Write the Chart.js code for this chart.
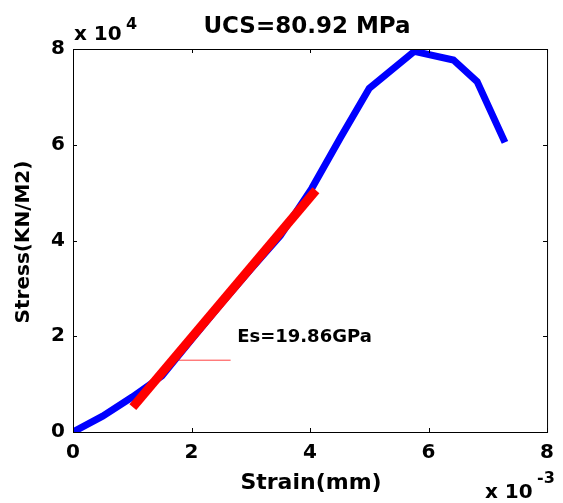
<!DOCTYPE html>
<html lang="en">
<head>
    <meta charset="UTF-8">
    <title>UCS Stress-Strain Curve</title>
    <style>
        body { margin: 0; background: #fff; }
        #wrap { width: 563px; height: 503px; }
    </style>
    <script src="https://cdn.jsdelivr.net/npm/chart.js"></script>
</head>
<body>
    <div id="wrap"><canvas id="ucsChart" width="563" height="503"></canvas></div>

    <script>
        // Measured stress-strain curve
        const strain = [0, 0.0005, 0.0010, 0.0015, 0.0020, 0.0025, 0.0030, 0.0035, 0.00403, 0.00451, 0.0050, 0.00576, 0.00642, 0.00682, 0.00729];
        const stress = [0, 3300, 7300, 11700, 19300, 26800, 34000, 41000, 50900, 61400, 71800, 79500, 77700, 73200, 60500];

        // Linear fit used for the secant modulus
        const fitStrain = [0.00101, 0.00410];
        const fitStress = [5200, 50500];

        // Leader line pointing at the modulus label
        const leaderStrain = [0.00178, 0.00266];
        const leaderStress = [15000, 15000];

        const xTicks = [0, 0.002, 0.004, 0.006, 0.008];
        const yTicks = [0, 20000, 40000, 60000, 80000];

        const titleText = 'UCS=80.92 MPa';
        const modulusText = 'Es=19.86GPa';

        const FONT = "'DejaVu Sans', Arial, sans-serif";
        const pts = (xs, ys) => xs.map((x, i) => ({ x: x, y: ys[i] }));

        // box, inward ticks and the free text around the axes
        const frame = {
            id: 'frame',
            afterDatasetsDraw(chart) {
                const ctx = chart.ctx;
                const a = chart.chartArea;
                const sx = chart.scales.x, sy = chart.scales.y;
                ctx.save();
                ctx.strokeStyle = '#000';
                ctx.lineWidth = 1;
                ctx.strokeRect(a.left + 0.5, a.top + 0.5, a.right - a.left, a.bottom - a.top);
                ctx.beginPath();
                xTicks.forEach(v => {
                    const px = Math.round(sx.getPixelForValue(v)) + 0.5;
                    ctx.moveTo(px, a.bottom); ctx.lineTo(px, a.bottom - 4);
                    ctx.moveTo(px, a.top); ctx.lineTo(px, a.top + 4);
                });
                yTicks.forEach(v => {
                    const py = Math.round(sy.getPixelForValue(v)) + 0.5;
                    ctx.moveTo(a.left, py); ctx.lineTo(a.left + 4, py);
                    ctx.moveTo(a.right, py); ctx.lineTo(a.right - 4, py);
                });
                ctx.stroke();

                ctx.fillStyle = '#000';
                ctx.textBaseline = 'alphabetic';

                // title
                ctx.font = 'bold 23px ' + FONT;
                ctx.textAlign = 'center';
                ctx.fillText(titleText, 307, 33);

                // axis titles
                ctx.font = 'bold 22px ' + FONT;
                ctx.fillText('Strain(mm)', 311, 489);
                ctx.save();
                ctx.translate(29, 242);
                ctx.rotate(-Math.PI / 2);
                ctx.font = 'bold 20px ' + FONT;
                ctx.fillText('Stress(KN/M2)', 0, 0);
                ctx.restore();

                // exponent labels
                ctx.textAlign = 'left';
                ctx.font = 'bold 20px ' + FONT;
                ctx.fillText('x 10', 74, 40);
                ctx.fillText('x 10', 485, 498);
                ctx.font = 'bold 16px ' + FONT;
                ctx.fillText('4', 126, 29);
                ctx.fillText('-3', 537, 483);

                // modulus label
                ctx.font = 'bold 18px ' + FONT;
                ctx.textBaseline = 'middle';
                ctx.fillText(modulusText, sx.getPixelForValue(0.00277), sy.getPixelForValue(19800));
                ctx.restore();
            }
        };

        new Chart(document.getElementById('ucsChart').getContext('2d'), {
            type: 'scatter',
            data: {
                datasets: [
                    { data: pts(fitStrain, fitStress), showLine: true, borderColor: '#ff0000', borderWidth: 9, pointRadius: 0, order: 0 },
                    { data: pts(leaderStrain, leaderStress), showLine: true, borderColor: 'rgba(255,0,0,0.75)', borderWidth: 1, pointRadius: 0, order: 1 },
                    { data: pts(strain, stress), showLine: true, borderColor: '#0000ff', borderWidth: 7, pointRadius: 0, order: 2 }
                ]
            },
            options: {
                responsive: false,
                animation: false,
                events: [],
                layout: { padding: { left: 0, top: 49, right: 8, bottom: 0 } },
                plugins: { legend: { display: false }, tooltip: { enabled: false }, title: { display: false } },
                scales: {
                    x: {
                        type: 'linear', min: 0, max: 0.008,
                        afterFit: s => { s.height = 71; },
                        afterBuildTicks: s => { s.ticks = xTicks.map(v => ({ value: v })); },
                        grid: { display: false, drawTicks: false },
                        border: { display: false },
                        ticks: {
                            padding: 9, color: '#000', maxRotation: 0,
                            font: { family: FONT, size: 20, weight: 'bold' },
                            callback: v => String(Math.round(v * 1000))
                        }
                    },
                    y: {
                        min: 0, max: 80000,
                        afterFit: s => { s.width = 73; },
                        afterBuildTicks: s => { s.ticks = yTicks.map(v => ({ value: v })); },
                        grid: { display: false, drawTicks: false },
                        border: { display: false },
                        ticks: {
                            padding: 8, color: '#000',
                            font: { family: FONT, size: 20, weight: 'bold' },
                            callback: v => String(Math.round(v / 10000))
                        }
                    }
                }
            },
            plugins: [frame]
        });
    </script>
</body>
</html>
